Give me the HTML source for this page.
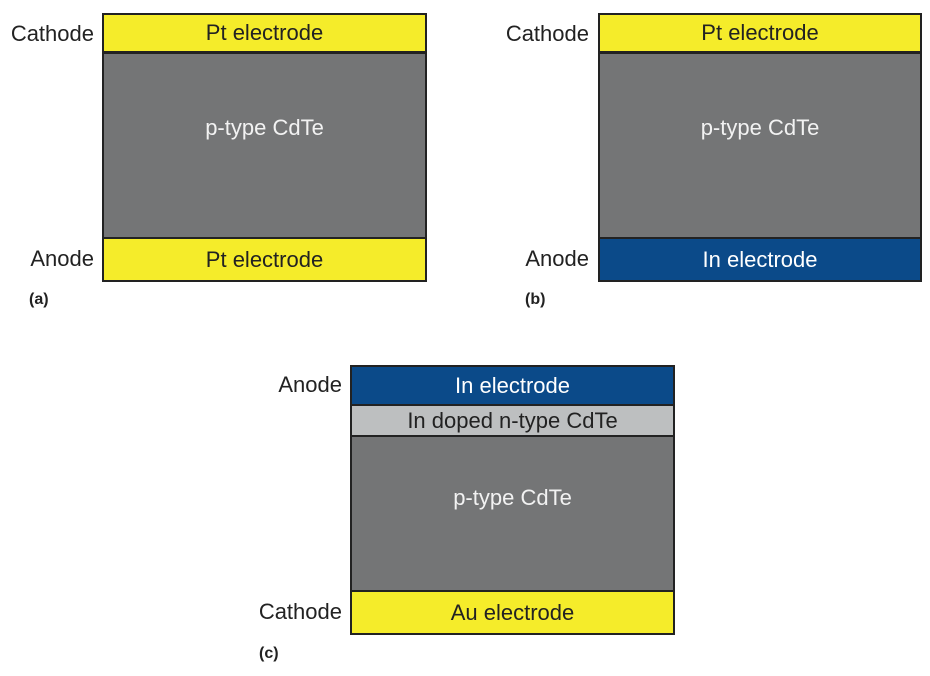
<!DOCTYPE html>
<html><head><style>
body{margin:0;width:930px;height:676px;background:#fff;position:relative;overflow:hidden;font-family:"Liberation Sans",sans-serif}
.b{position:absolute;box-sizing:border-box;border:2px solid #222;display:flex;align-items:center;justify-content:center;font-size:22px}
.y{background:#f5ec2a;color:#222}
.g{background:#747576;color:#f2f2f2;align-items:flex-start}
.bl{background:#0b4a89;color:#fff}
.lg{background:#bdbfc0;color:#222}
.l{position:absolute;font-size:22px;color:#222;text-align:right}
.p{position:absolute;font-size:16px;font-weight:bold;color:#222}
</style></head><body>
<!-- a -->
<div class="b y" style="left:102px;top:13px;width:325px;height:40px">Pt electrode</div>
<div class="b g" style="left:102px;top:52px;width:325px;height:187px;padding-top:61px">p-type CdTe</div>
<div class="b y" style="left:102px;top:237px;width:325px;height:45px">Pt electrode</div>
<div class="l" style="left:0;width:94px;top:21px">Cathode</div>
<div class="l" style="left:0;width:94px;top:246px">Anode</div>
<div class="p" style="left:29px;top:291px">(a)</div>
<!-- b -->
<div class="b y" style="left:598px;top:13px;width:324px;height:40px">Pt electrode</div>
<div class="b g" style="left:598px;top:52px;width:324px;height:187px;padding-top:61px">p-type CdTe</div>
<div class="b bl" style="left:598px;top:237px;width:324px;height:45px">In electrode</div>
<div class="l" style="left:480px;width:109px;top:21px">Cathode</div>
<div class="l" style="left:480px;width:109px;top:246px">Anode</div>
<div class="p" style="left:525px;top:291px">(b)</div>
<!-- c -->
<div class="b bl" style="left:350px;top:365px;width:325px;height:41px">In electrode</div>
<div class="b lg" style="left:350px;top:404px;width:325px;height:33px">In doped n-type CdTe</div>
<div class="b g" style="left:350px;top:435px;width:325px;height:157px;padding-top:48px">p-type CdTe</div>
<div class="b y" style="left:350px;top:590px;width:325px;height:45px">Au electrode</div>
<div class="l" style="left:240px;width:102px;top:372px">Anode</div>
<div class="l" style="left:240px;width:102px;top:599px">Cathode</div>
<div class="p" style="left:259px;top:645px">(c)</div>
</body></html>
